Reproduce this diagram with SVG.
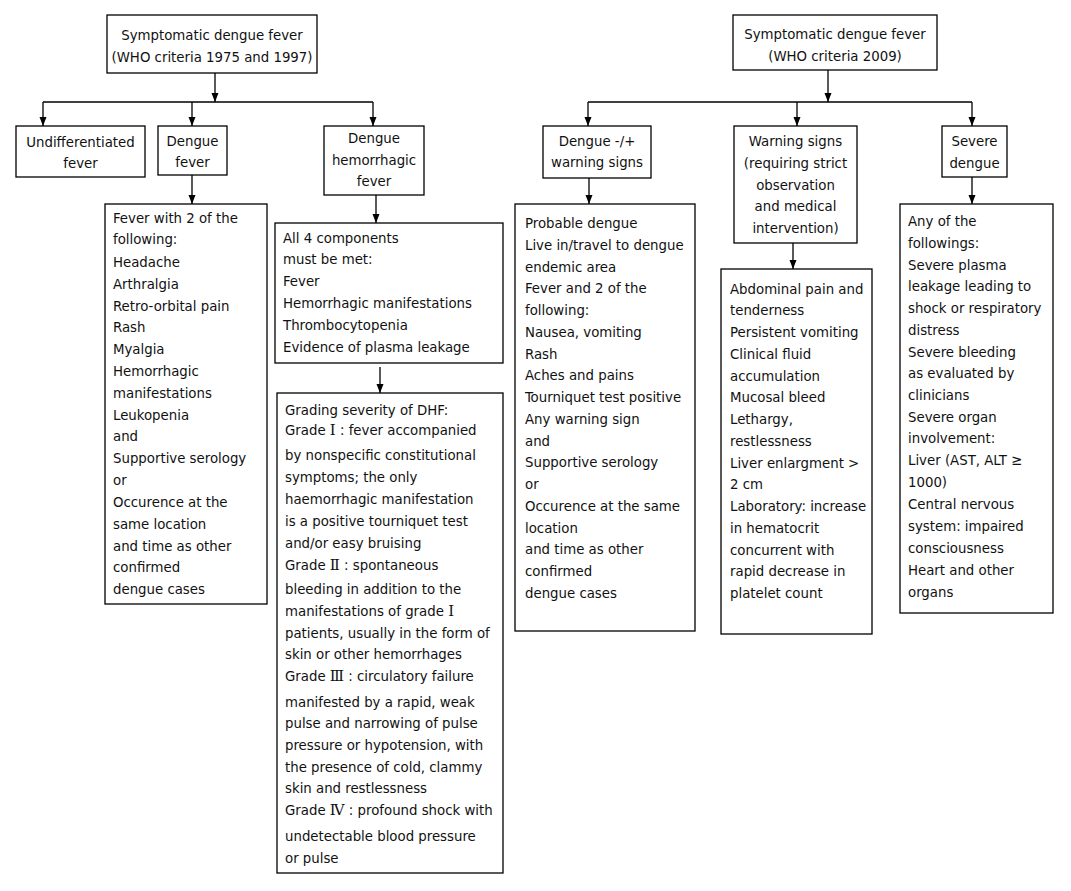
<svg xmlns="http://www.w3.org/2000/svg" width="1071" height="891" viewBox="0 0 1071 891">
<style>
text{font-family:"DejaVu Sans Condensed","Liberation Sans",sans-serif;font-size:14.8px;fill:#111}
.c{text-anchor:middle}
.box{fill:#fff;stroke:#000;stroke-width:1.3}
.ln{fill:none;stroke:#000;stroke-width:1.3}
.ar{fill:none;stroke:#000;stroke-width:1.3;marker-end:url(#ah)}
.rn{font-family:"DejaVu Serif","Noto Sans CJK SC",serif}
</style>
<defs>
<marker id="ah" markerUnits="userSpaceOnUse" markerWidth="10" markerHeight="8" refX="9" refY="3.5" orient="auto">
<path d="M0,0 L9,3.5 L0,7 z" fill="#000"/>
</marker>
</defs>
<rect width="1071" height="891" fill="#fff"/>
<g id="connectors">
<line class="ar" x1="215" y1="73" x2="215" y2="102"/>
<polyline class="ln" points="43,102 373,102"/>
<line class="ar" x1="43" y1="102" x2="43" y2="126"/>
<line class="ar" x1="192" y1="102" x2="192" y2="126"/>
<line class="ar" x1="373" y1="102" x2="373" y2="126"/>
<line class="ar" x1="192" y1="175" x2="192" y2="204"/>
<line class="ar" x1="376" y1="195" x2="376" y2="223"/>
<line class="ar" x1="380" y1="367" x2="380" y2="393"/>
<line class="ar" x1="828" y1="70" x2="828" y2="102"/>
<polyline class="ln" points="588,102 972,102"/>
<line class="ar" x1="588" y1="102" x2="588" y2="126"/>
<line class="ar" x1="797" y1="102" x2="797" y2="126"/>
<line class="ar" x1="972" y1="102" x2="972" y2="126"/>
<line class="ar" x1="589" y1="178" x2="589" y2="204"/>
<line class="ar" x1="793" y1="243" x2="793" y2="269"/>
<line class="ar" x1="972" y1="177" x2="972" y2="204"/>
</g>
<g id="top-left">
<rect class="box" x="107" y="15" width="210" height="58"/>
<text class="c" x="212" y="40">Symptomatic dengue fever</text>
<text class="c" x="212" y="62">(WHO criteria 1975 and 1997)</text>
</g>
<g id="undiff">
<rect class="box" x="16" y="126" width="129" height="51"/>
<text class="c" x="80.5" y="147">Undifferentiated</text>
<text class="c" x="80.5" y="168">fever</text>
</g>
<g id="df">
<rect class="box" x="158" y="126" width="69" height="49"/>
<text class="c" x="192.5" y="146">Dengue</text>
<text class="c" x="192.5" y="167">fever</text>
</g>
<g id="dhf">
<rect class="box" x="324" y="126" width="100" height="69"/>
<text class="c" x="374" y="143">Dengue</text>
<text class="c" x="374" y="165">hemorrhagic</text>
<text class="c" x="374" y="186">fever</text>
</g>
<g id="df-criteria">
<rect class="box" x="105" y="204" width="162" height="400"/>
<text x="113" y="223">Fever with 2 of the</text>
<text x="113" y="244">following:</text>
<text x="113" y="267">Headache</text>
<text x="113" y="289">Arthralgia</text>
<text x="113" y="311">Retro-orbital pain</text>
<text x="113" y="332">Rash</text>
<text x="113" y="354">Myalgia</text>
<text x="113" y="376">Hemorrhagic</text>
<text x="113" y="398">manifestations</text>
<text x="113" y="420">Leukopenia</text>
<text x="113" y="441">and</text>
<text x="113" y="463">Supportive serology</text>
<text x="113" y="485">or</text>
<text x="113" y="507">Occurence at the</text>
<text x="113" y="529">same location</text>
<text x="113" y="551">and time as other</text>
<text x="113" y="572">confirmed</text>
<text x="113" y="594">dengue cases</text>
</g>
<g id="dhf-components">
<rect class="box" x="275" y="223" width="228" height="140"/>
<text x="283" y="243">All 4 components</text>
<text x="283" y="264">must be met:</text>
<text x="283" y="286">Fever</text>
<text x="283" y="308">Hemorrhagic manifestations</text>
<text x="283" y="330">Thrombocytopenia</text>
<text x="283" y="352">Evidence of plasma leakage</text>
</g>
<g id="dhf-grading">
<rect class="box" x="277" y="393" width="226" height="480"/>
<text x="285" y="415">Grading severity of DHF:</text>
<text x="285" y="435">Grade <tspan class="rn">Ⅰ</tspan> : fever accompanied</text>
<text x="285" y="460">by nonspecific constitutional</text>
<text x="285" y="482">symptoms; the only</text>
<text x="285" y="504">haemorrhagic manifestation</text>
<text x="285" y="526">is a positive tourniquet test</text>
<text x="285" y="548">and/or easy bruising</text>
<text x="285" y="570">Grade <tspan class="rn">Ⅱ</tspan> : spontaneous</text>
<text x="285" y="594">bleeding in addition to the</text>
<text x="285" y="616">manifestations of grade <tspan class="rn">I</tspan></text>
<text x="285" y="638">patients, usually in the form of</text>
<text x="285" y="659">skin or other hemorrhages</text>
<text x="285" y="681">Grade <tspan class="rn">Ⅲ</tspan> : circulatory failure</text>
<text x="285" y="707">manifested by a rapid, weak</text>
<text x="285" y="728">pulse and narrowing of pulse</text>
<text x="285" y="750">pressure or hypotension, with</text>
<text x="285" y="772">the presence of cold, clammy</text>
<text x="285" y="793">skin and restlessness</text>
<text x="285" y="815">Grade <tspan class="rn">Ⅳ</tspan> : profound shock with</text>
<text x="285" y="841">undetectable blood pressure</text>
<text x="285" y="863">or pulse</text>
</g>
<g id="top-right">
<rect class="box" x="733" y="15" width="204" height="55"/>
<text class="c" x="835" y="39">Symptomatic dengue fever</text>
<text class="c" x="835" y="61">(WHO criteria 2009)</text>
</g>
<g id="dengue-ws">
<rect class="box" x="543" y="126" width="108" height="52"/>
<text class="c" x="597" y="146">Dengue -/+</text>
<text class="c" x="597" y="167">warning signs</text>
</g>
<g id="warning">
<rect class="box" x="734" y="126" width="123" height="117"/>
<text class="c" x="795.5" y="146">Warning signs</text>
<text class="c" x="795.5" y="168">(requiring strict</text>
<text class="c" x="795.5" y="190">observation</text>
<text class="c" x="795.5" y="211">and medical</text>
<text class="c" x="795.5" y="233">intervention)</text>
</g>
<g id="severe">
<rect class="box" x="942" y="126" width="65" height="51"/>
<text class="c" x="974.5" y="146">Severe</text>
<text class="c" x="974.5" y="168">dengue</text>
</g>
<g id="probable">
<rect class="box" x="515" y="204" width="180" height="427"/>
<text x="525" y="228">Probable dengue</text>
<text x="525" y="250">Live in/travel to dengue</text>
<text x="525" y="272">endemic area</text>
<text x="525" y="293">Fever and 2 of the</text>
<text x="525" y="315">following:</text>
<text x="525" y="337">Nausea, vomiting</text>
<text x="525" y="359">Rash</text>
<text x="525" y="380">Aches and pains</text>
<text x="525" y="402">Tourniquet test positive</text>
<text x="525" y="424">Any warning sign</text>
<text x="525" y="446">and</text>
<text x="525" y="467">Supportive serology</text>
<text x="525" y="489">or</text>
<text x="525" y="511">Occurence at the same</text>
<text x="525" y="533">location</text>
<text x="525" y="554">and time as other</text>
<text x="525" y="576">confirmed</text>
<text x="525" y="598">dengue cases</text>
</g>
<g id="warning-list">
<rect class="box" x="721" y="269" width="151" height="365"/>
<text x="730" y="294">Abdominal pain and</text>
<text x="730" y="315">tenderness</text>
<text x="730" y="337">Persistent vomiting</text>
<text x="730" y="359">Clinical fluid</text>
<text x="730" y="381">accumulation</text>
<text x="730" y="402">Mucosal bleed</text>
<text x="730" y="424">Lethargy,</text>
<text x="730" y="446">restlessness</text>
<text x="730" y="468">Liver enlargment &gt;</text>
<text x="730" y="489">2 cm</text>
<text x="730" y="511">Laboratory: increase</text>
<text x="730" y="533">in hematocrit</text>
<text x="730" y="555">concurrent with</text>
<text x="730" y="576">rapid decrease in</text>
<text x="730" y="598">platelet count</text>
</g>
<g id="severe-list">
<rect class="box" x="900" y="204" width="153" height="409"/>
<text x="908" y="226">Any of the</text>
<text x="908" y="248">followings:</text>
<text x="908" y="270">Severe plasma</text>
<text x="908" y="291">leakage leading to</text>
<text x="908" y="313">shock or respiratory</text>
<text x="908" y="335">distress</text>
<text x="908" y="357">Severe bleeding</text>
<text x="908" y="378">as evaluated by</text>
<text x="908" y="400">clinicians</text>
<text x="908" y="422">Severe organ</text>
<text x="908" y="443">involvement:</text>
<text x="908" y="465">Liver (AST, ALT ≥</text>
<text x="908" y="487">1000)</text>
<text x="908" y="509">Central nervous</text>
<text x="908" y="531">system: impaired</text>
<text x="908" y="553">consciousness</text>
<text x="908" y="575">Heart and other</text>
<text x="908" y="597">organs</text>
</g>
</svg>
